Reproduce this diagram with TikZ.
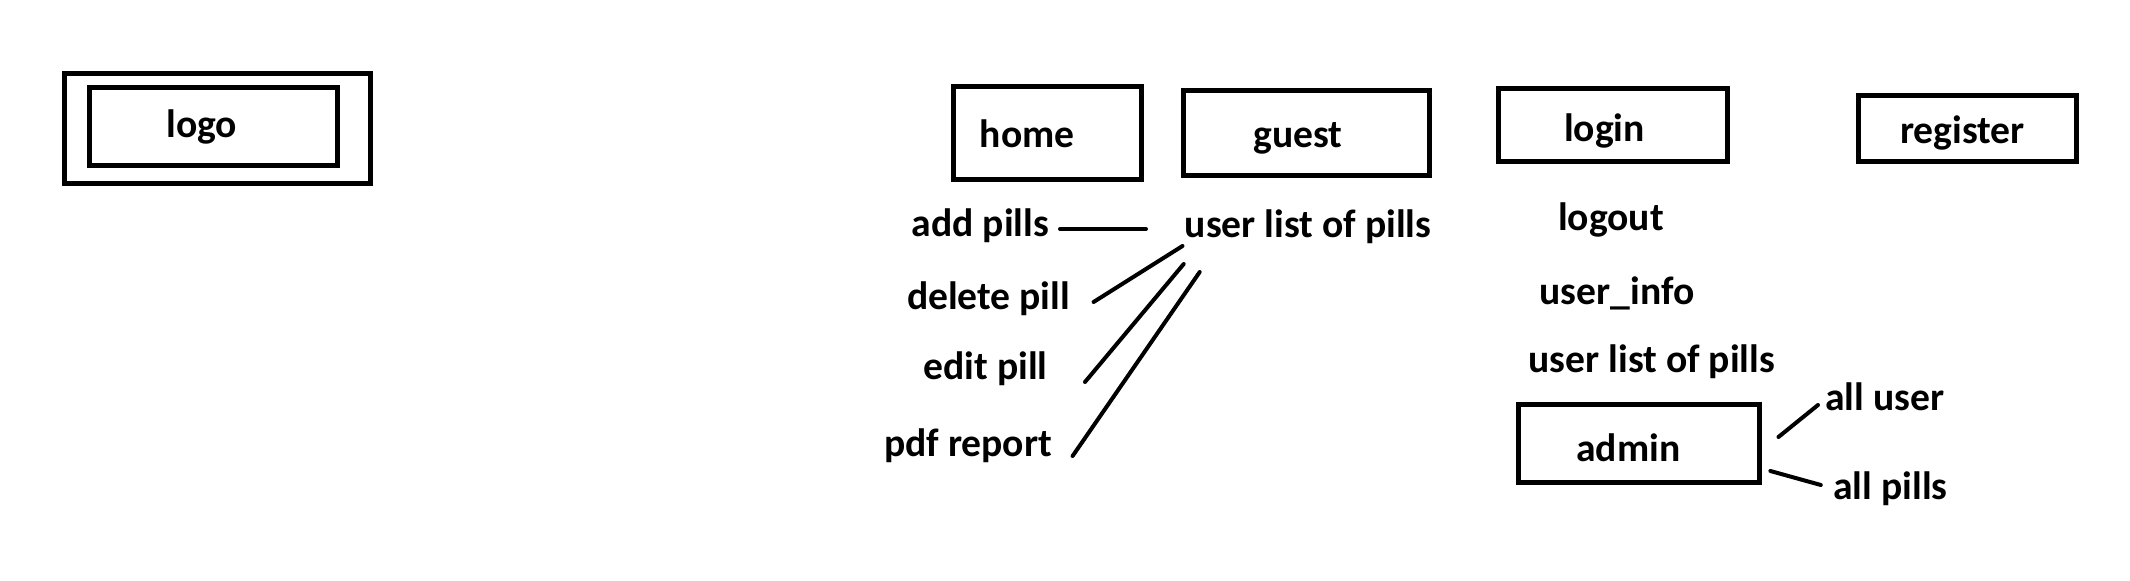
\documentclass[tikz,border=0pt]{standalone}
\usepackage{fontspec}
\setmainfont{Carlito}
\usetikzlibrary{calc}
\tikzset{
  box/.style={draw, line width=2.5pt, rectangle, inner sep=0pt},
  lbl/.style={anchor=base west, inner sep=0pt, font=\fontsize{19.8}{22}\selectfont\bfseries},
  conn/.style={line width=2pt, line cap=round}
}
\begin{document}
\begin{tikzpicture}[x=0.5pt, y=-0.5pt]
\useasboundingbox (0,0) rectangle (2130,581);
% logo
\node[box, minimum width=153pt, minimum height=55pt] (logoout) at (217.5,128.5) {};
\node[box, minimum width=124pt, minimum height=39pt] (logoin) at (213.5,126.5) {};
\node[lbl] (logo) at (166,138) {logo};
% top boxes
\node[box, minimum width=94pt, minimum height=46.5pt] (homebox) at (1047,133) {};
\node[lbl] (home) at (979.5,148) {home};
\node[box, minimum width=123pt, minimum height=42.5pt] (guestbox) at (1306,133) {};
\node[lbl] (guest) at (1253,148) {guest};
\node[box, minimum width=114.25pt, minimum height=36.5pt] (loginbox) at (1613,125) {};
\node[lbl] (login) at (1563.7,142) {login};
\node[box, minimum width=109pt, minimum height=33pt] (registerbox) at (1967.75,128.5) {};
\node[lbl] (register) at (1899.6,144) {register};
% guest column
\node[lbl] (addpills) at (911.5,237) {add pills};
\node[lbl] (ulp) at (1184.4,238) {user list of pills};
\node[lbl] (delete) at (906.6,310) {delete pill};
\node[lbl] (edit) at (923,380) {edit pill};
\node[lbl] (pdf) at (883.7,457) {pdf report};
% login column
\node[lbl] (logout) at (1557.6,231) {logout};
\node[lbl] (userinfo) at (1539.2,305) {user\_info};
\node[lbl] (ulp2) at (1528.2,373) {user list of pills};
\node[box, minimum width=120.4pt, minimum height=39pt] (adminbox) at (1638.75,443.5) {};
\node[lbl] (admin) at (1575.9,462) {admin};
\node[lbl] (alluser) at (1824.9,411) {all user};
\node[lbl] (allpills) at (1833,500) {all pills};
% connectors
\draw[conn] ($(addpills.base west)+(148.5,-8)$) -- ($(ulp.base west)+(-38.4,-9)$);
\draw[conn] ($(delete.base west)+(187,-8)$) -- ($(ulp.base west)+(-1.9,8)$);
\draw[conn] ($(edit.base west)+(162,2)$) -- ($(ulp.base west)+(-0.7,26)$);
\draw[conn] ($(pdf.base west)+(188.9,-1)$) -- ($(ulp.base west)+(15.3,34)$);
\draw[conn] ($(adminbox.east)+(16.8,-6.5)$) -- ($(alluser.base west)+(-6.9,-6)$);
\draw[conn] ($(adminbox.east)+(8.7,27.5)$) -- ($(allpills.base west)+(-12.2,-15)$);
\end{tikzpicture}
\end{document}
